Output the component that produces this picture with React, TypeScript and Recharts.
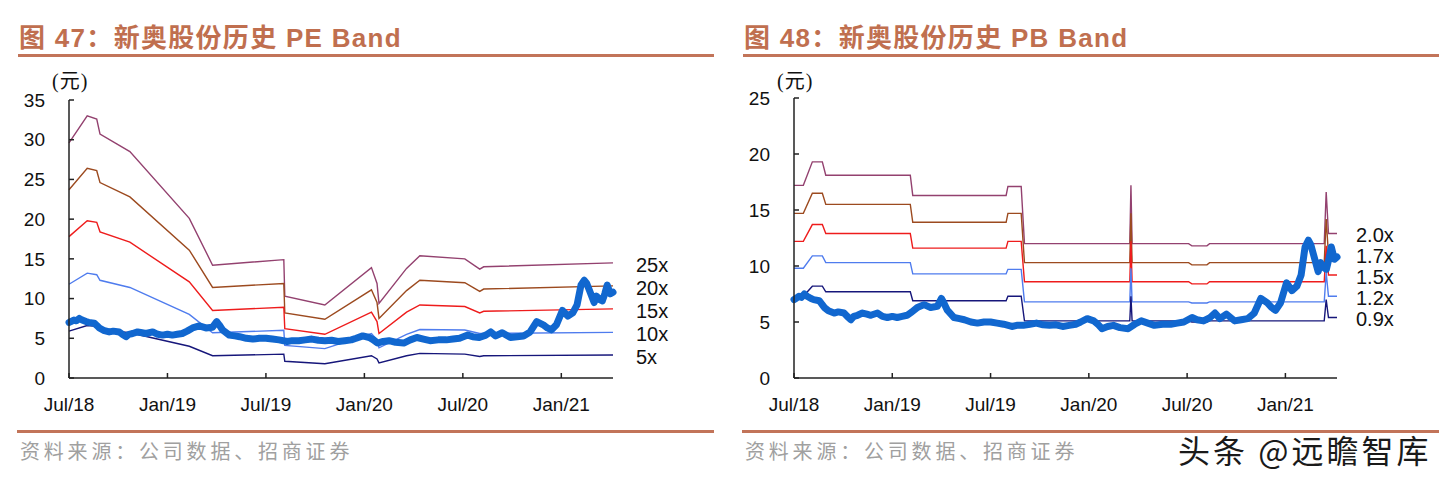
import { LineChart, Line, XAxis, YAxis } from "recharts";

// x values are months counted from Jul 2018
const monthTicks = [0, 6, 12, 18, 24, 30];
const monthLabels = ["Jul/18", "Jan/19", "Jul/19", "Jan/20", "Jul/20", "Jan/21"];
const lastMonth = 33.15;

// share price (元), shared by both charts
const priceMonths = [
  0, 0.12, 0.3, 0.45, 0.63, 0.8, 1.04, 1.2, 1.54, 1.7, 1.85, 2.1, 2.45, 2.7, 3.06, 3.25, 3.47,
  3.65, 3.88, 4.18, 4.45, 4.69, 5.1, 5.4, 5.7, 6.0, 6.3, 6.6, 6.9, 7.2, 7.53, 7.94, 8.34, 8.75,
  9.0, 9.15, 9.36, 9.77, 10.1, 10.4, 10.8, 11.2, 11.6, 12.0, 12.4, 12.8, 13.3, 13.6, 14.0, 14.4,
  14.8, 15.2, 15.6, 16.0, 16.4, 16.8, 17.2, 17.5, 17.9, 18.3, 18.55, 18.8, 19.15, 19.5, 19.9,
  20.4, 20.8, 21.2, 21.6, 22.0, 22.5, 23.0, 23.4, 23.8, 24.3, 24.6, 25.0, 25.4, 25.7, 26.0,
  26.4, 26.9, 27.3, 27.7, 28.1, 28.5, 28.9, 29.15, 29.4, 29.7, 30.07, 30.4, 30.7, 30.96, 31.2,
  31.4, 31.55, 31.7, 32.0, 32.15, 32.3, 32.5, 32.65, 32.8, 32.99, 33.15,
];
const priceValues = [
  7.0, 7.1, 7.3, 7.2, 7.5, 7.3, 7.1, 7.0, 6.9, 6.6, 6.3, 6.0, 5.8, 5.9, 5.8, 5.5, 5.2,
  5.5, 5.6, 5.8, 5.7, 5.6, 5.8, 5.5, 5.4, 5.5, 5.4, 5.5, 5.6, 5.9, 6.3, 6.55, 6.3, 6.4,
  7.1, 6.7, 6.05, 5.4, 5.3, 5.2, 5.0, 4.9, 5.0, 5.0, 4.9, 4.8, 4.6, 4.7, 4.7, 4.8,
  4.9, 4.75, 4.7, 4.75, 4.6, 4.7, 4.8, 5.0, 5.3, 5.1, 4.8, 4.4, 4.6, 4.7, 4.5,
  4.4, 4.8, 5.1, 4.9, 4.7, 4.8, 4.8, 4.9, 5.0, 5.4, 5.2, 5.1, 5.4, 5.8, 5.3,
  5.7, 5.1, 5.2, 5.3, 5.8, 7.1, 6.7, 6.3, 6.05, 6.7, 8.5, 7.8, 8.2, 9.2, 11.7,
  12.3, 11.9, 11.1, 9.5, 10.3, 9.9, 9.7, 10.6, 11.7, 10.6, 10.8,
];

// PE band
const peMonths = [
  0, 1.11, 1.69, 1.89, 3.71, 7.33, 8.75, 13.09, 13.15, 15.59, 18.43, 18.77, 18.89, 20.57, 21.38,
  24.12, 25.03, 25.27, 33.15,
];
const pe25 = [29.6, 33.0, 32.6, 30.7, 28.5, 20.1, 14.2, 14.9, 10.3, 9.2, 13.9, 11.9, 9.4, 13.8, 15.4, 15.0, 13.7, 14.0, 14.5];
const pe20 = [23.7, 26.4, 26.1, 24.6, 22.8, 16.1, 11.4, 11.9, 8.2, 7.4, 11.1, 9.5, 7.5, 11.0, 12.3, 12.0, 10.9, 11.2, 11.6];
const pe15 = [17.8, 19.8, 19.6, 18.4, 17.1, 12.1, 8.5, 8.9, 6.2, 5.5, 8.3, 7.1, 5.6, 8.3, 9.2, 9.0, 8.2, 8.4, 8.7];
const pe10 = [11.8, 13.2, 13.0, 12.3, 11.4, 8.0, 5.7, 6.0, 4.1, 3.7, 5.6, 4.8, 3.8, 5.5, 6.1, 6.05, 5.6, 5.6, 5.75];
const pe5 = [5.9, 6.6, 6.5, 6.1, 5.7, 4.0, 2.8, 3.0, 2.1, 1.8, 2.8, 2.4, 1.9, 2.8, 3.1, 3.0, 2.7, 2.8, 2.9];
const peLabels = ["25x", "20x", "15x", "10x", "5x"];

// PB band
const pbMonths = [
  0, 0.57, 1.12, 1.73, 1.94, 7.1, 7.25, 12.95, 13.06, 13.87, 14.07, 20.5, 20.57, 20.64, 24.09,
  24.29, 25.21, 25.37, 32.37, 32.49, 32.63, 33.15,
];
const pb20 = [17.2, 17.2, 19.3, 19.3, 18.1, 18.1, 16.3, 16.3, 17.1, 17.1, 12.0, 12.0, 17.2, 12.0, 12.0, 11.8, 11.8, 12.0, 12.0, 16.6, 12.9, 12.9];
const pb17 = [14.7, 14.7, 16.5, 16.5, 15.5, 15.5, 13.9, 13.9, 14.7, 14.7, 10.3, 10.3, 14.7, 10.3, 10.3, 10.1, 10.1, 10.3, 10.3, 14.2, 11.0, 11.0];
const pb15 = [12.2, 12.2, 13.7, 13.7, 12.9, 12.9, 11.6, 11.6, 12.2, 12.2, 8.6, 8.6, 12.2, 8.6, 8.6, 8.4, 8.4, 8.6, 8.6, 11.8, 9.2, 9.2];
const pb12 = [9.8, 9.8, 10.9, 10.9, 10.3, 10.3, 9.3, 9.3, 9.7, 9.7, 6.8, 6.8, 9.8, 6.8, 6.8, 6.7, 6.7, 6.8, 6.8, 9.4, 7.3, 7.3];
const pb09 = [7.3, 7.3, 8.2, 8.2, 7.7, 7.7, 6.9, 6.9, 7.3, 7.3, 5.1, 5.1, 7.3, 5.1, 5.1, 5.0, 5.0, 5.1, 5.1, 7.0, 5.4, 5.4];
const pbLabels = ["2.0x", "1.7x", "1.5x", "1.2x", "0.9x"];

const bandColors = ["#93416F", "#9C4A1F", "#EE1C1C", "#4F7CEE", "#16167A"];
const priceColor = "#1167CF";
const accent = "#C06F4F";
const ruleColor = "#C27459";
const SANS = "'Liberation Sans', Arial, 'Noto Sans CJK SC', sans-serif";
const CJK = "'Noto Sans CJK SC', 'Liberation Sans', sans-serif";

const toRows = (ms: number[], vs: number[]) => ms.map((m, i) => ({ m, v: vs[i] }));

type PanelProps = {
  left: number;
  title: string;
  yMax: number;
  top: number;
  right: number;
  bands: number[][];
  bandMonths: number[];
  labels: string[];
  labelX: number;
  labelY0: number;
  labelStep: number;
};

function BandPanel(p: PanelProps) {
  const yTicks: number[] = [];
  for (let v = 0; v <= p.yMax; v += 5) yTicks.push(v);
  const priceRows = toRows(priceMonths, priceValues);
  const axisColor = "#222";

  return (
    <div style={{ position: "absolute", left: p.left, top: 0, width: 725, height: 482 }}>
      <div
        style={{
          position: "absolute",
          left: 19,
          top: 24,
          fontFamily: SANS,
          fontWeight: 700,
          fontSize: 26,
          lineHeight: "28px",
          letterSpacing: 1.3,
          color: accent,
          whiteSpace: "nowrap",
        }}
      >
        {p.title}
      </div>
      <div style={{ position: "absolute", left: 18, top: 54, width: 696, height: 3, background: ruleColor }} />

      <div
        style={{
          position: "absolute",
          left: 52,
          top: 65,
          fontFamily: "'Liberation Serif', 'Noto Sans CJK SC', serif",
          fontSize: 20,
          letterSpacing: 1,
          color: "#111",
          whiteSpace: "nowrap",
        }}
      >
        (元)
      </div>

      <div style={{ position: "absolute", left: 0, top: 0 }}>
        <LineChart width={725} height={430} margin={{ top: p.top, right: p.right, left: 0, bottom: 0 }}>
          <XAxis
            dataKey="m"
            type="number"
            domain={[0, lastMonth]}
            ticks={monthTicks}
            tickFormatter={(v: number) => monthLabels[monthTicks.indexOf(v)] ?? ""}
            allowDuplicatedCategory={false}
            height={52}
            tickSize={-5}
            tickMargin={25}
            axisLine={{ stroke: axisColor, strokeWidth: 1.5 }}
            tickLine={{ stroke: axisColor, strokeWidth: 1.5 }}
            tick={{ fill: "#111", fontSize: 19, fontFamily: SANS }}
            interval={0}
          />
          <YAxis
            type="number"
            domain={[0, p.yMax]}
            ticks={yTicks}
            width={69}
            tickSize={-5}
            tickMargin={29}
            axisLine={{ stroke: axisColor, strokeWidth: 1.5 }}
            tickLine={{ stroke: axisColor, strokeWidth: 1.5 }}
            tick={{ fill: "#111", fontSize: 19, fontFamily: SANS }}
            interval={0}
          />
          {p.bands.map((vals, i) => (
            <Line
              key={p.labels[i]}
              data={toRows(p.bandMonths, vals)}
              dataKey="v"
              type="linear"
              stroke={bandColors[i]}
              strokeWidth={1.4}
              dot={false}
              activeDot={false}
              isAnimationActive={false}
            />
          ))}
          <Line
            data={priceRows}
            dataKey="v"
            type="linear"
            stroke={priceColor}
            strokeWidth={7}
            strokeLinejoin="round"
            strokeLinecap="round"
            dot={false}
            activeDot={false}
            isAnimationActive={false}
          />
        </LineChart>
      </div>

      {p.labels.map((t, i) => (
        <div
          key={t}
          style={{
            position: "absolute",
            left: p.labelX,
            top: p.labelY0 + i * p.labelStep - 12,
            fontFamily: SANS,
            fontSize: 20,
            lineHeight: "24px",
            color: "#111",
            whiteSpace: "nowrap",
          }}
        >
          {t}
        </div>
      ))}

      <div style={{ position: "absolute", left: 17, top: 430, width: 697, height: 3, background: ruleColor }} />
      <div
        style={{
          position: "absolute",
          left: 20,
          top: 439,
          fontFamily: CJK,
          fontSize: 20,
          lineHeight: "24px",
          letterSpacing: 3.8,
          color: "#a0a0a0",
          whiteSpace: "nowrap",
        }}
      >
        资料来源：公司数据、招商证券
      </div>
    </div>
  );
}

export default function App() {
  return (
    <div style={{ position: "absolute", left: 0, top: 0, width: 1450, height: 482, background: "#fff", overflow: "hidden" }}>
      <BandPanel
        left={0}
        title="图 47：新奥股份历史 PE Band"
        yMax={35}
        top={100}
        right={112}
        bands={[pe25, pe20, pe15, pe10, pe5]}
        bandMonths={peMonths}
        labels={peLabels}
        labelX={636}
        labelY0={265}
        labelStep={23}
      />
      <BandPanel
        left={725}
        title="图 48：新奥股份历史 PB Band"
        yMax={25}
        top={98}
        right={113}
        bands={[pb20, pb17, pb15, pb12, pb09]}
        bandMonths={pbMonths}
        labels={pbLabels}
        labelX={631}
        labelY0={235}
        labelStep={21}
      />
      <div
        style={{
          position: "absolute",
          left: 1178,
          top: 430,
          fontFamily: CJK,
          fontSize: 32,
          lineHeight: "38px",
          letterSpacing: 3,
          color: "#1a1a1a",
          whiteSpace: "nowrap",
          textShadow: "0 0 2px #fff, 0 0 2px #fff, 0 0 3px #fff",
        }}
      >
        头条 @远瞻智库
      </div>
    </div>
  );
}
